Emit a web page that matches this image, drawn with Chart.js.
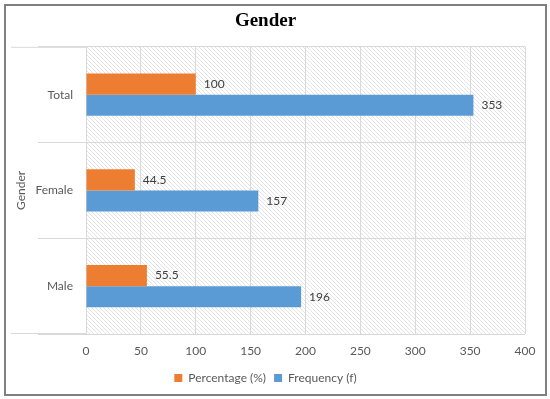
<!DOCTYPE html>
<html>
<head>
<meta charset="utf-8">
<script src="https://cdn.jsdelivr.net/npm/chart.js@4.4.0/dist/chart.umd.min.js"></script>
<style>
  html, body { margin: 0; padding: 0; background: #fff; }
  #wrap { position: relative; width: 550px; height: 399px; }
  #frame { position: absolute; left: 4px; top: 4px; width: 539px; height: 388px; border: 2px solid #808080; pointer-events: none; }
  canvas { display: block; }
</style>
</head>
<body>
<div id="wrap">
  <canvas id="chart" width="550" height="399"></canvas>
  <div id="frame"></div>
</div>
<script>
const categories = ['Total', 'Female', 'Male'];
const percentage = [100, 44.5, 55.5];
const frequency = [353, 157, 196];
const xTicks = [0, 50, 100, 150, 200, 250, 300, 350, 400];

const font = 'Lato, Calibri, sans-serif';

// diagonal hatch for the plot background
function hatch() {
  const c = document.createElement('canvas');
  c.width = 4; c.height = 4;
  const g = c.getContext('2d');
  g.fillStyle = '#fff';
  g.fillRect(0, 0, 4, 4);
  g.strokeStyle = '#e3e3e3';
  g.lineWidth = 1;
  g.beginPath();
  g.moveTo(-1, -1); g.lineTo(5, 5);
  g.moveTo(-1, 3); g.lineTo(1, 5);
  g.moveTo(3, -1); g.lineTo(5, 1);
  g.stroke();
  return g.createPattern(c, 'repeat');
}

const plotBg = {
  id: 'plotBg',
  beforeDraw(chart) {
    const { ctx, chartArea: a } = chart;
    ctx.save();
    ctx.fillStyle = hatch();
    ctx.fillRect(a.left, a.top, a.right - a.left, a.bottom - a.top);
    // outer category lines run out to the frame
    ctx.strokeStyle = '#d9d9d9';
    ctx.lineWidth = 1;
    ctx.beginPath();
    ctx.moveTo(11, a.top + 0.5); ctx.lineTo(a.left, a.top + 0.5);
    ctx.moveTo(11, a.bottom - 0.5); ctx.lineTo(a.left, a.bottom - 0.5);
    ctx.stroke();
    ctx.restore();
  }
};

const valueLabels = {
  id: 'valueLabels',
  afterDatasetsDraw(chart) {
    const ctx = chart.ctx;
    ctx.save();
    ctx.font = '12px ' + font;
    ctx.fillStyle = '#404040';
    ctx.textAlign = 'left';
    ctx.textBaseline = 'middle';
    chart.data.datasets.forEach((ds, i) => {
      chart.getDatasetMeta(i).data.forEach((bar, j) => {
        ctx.fillText(String(ds.data[j]), bar.x + 8, bar.y);
      });
    });
    ctx.restore();
  }
};

new Chart(document.getElementById('chart'), {
  type: 'bar',
  data: {
    labels: categories,
    datasets: [
      { label: 'Percentage (%)', data: percentage, backgroundColor: '#ED7D31' },
      { label: 'Frequency (f)', data: frequency, backgroundColor: '#5B9BD5' }
    ]
  },
  options: {
    indexAxis: 'y',
    responsive: false,
    animation: false,
    categoryPercentage: 0.44,
    barPercentage: 1,
    layout: { padding: { left: 6, right: 25, top: 10, bottom: 5 } },
    plugins: {
      title: {
        display: true,
        text: 'Gender',
        color: '#000',
        font: { family: '"Liberation Serif", "Times New Roman", serif', size: 19, weight: 'bold' },
        padding: { top: 0, bottom: 14 }
      },
      legend: {
        position: 'bottom',
        labels: {
          boxWidth: 8, boxHeight: 8, padding: 8,
          color: '#595959',
          font: { family: font, size: 12 }
        }
      },
      tooltip: { enabled: false }
    },
    scales: {
      x: {
        min: 0, max: 400,
        afterBuildTicks(scale) { scale.ticks = xTicks.map(v => ({ value: v })); },
        grid: { color: '#d9d9d9', drawTicks: false },
        border: { display: false },
        ticks: { color: '#595959', padding: 10, font: { family: font, size: 12 } },
        afterFit(scale) { scale.height = 30; }
      },
      y: {
        grid: { color: '#d9d9d9', offset: true, tickLength: 48 },
        border: { display: false },
        ticks: { color: '#595959', padding: -35, font: { family: font, size: 12 } },
        title: {
          display: true, text: 'Gender', color: '#595959',
          font: { family: font, size: 12 }, padding: { top: 8, bottom: 0 }
        },
        afterFit(scale) { scale.width = 80; }
      }
    }
  },
  plugins: [plotBg, valueLabels]
});
</script>
</body>
</html>
